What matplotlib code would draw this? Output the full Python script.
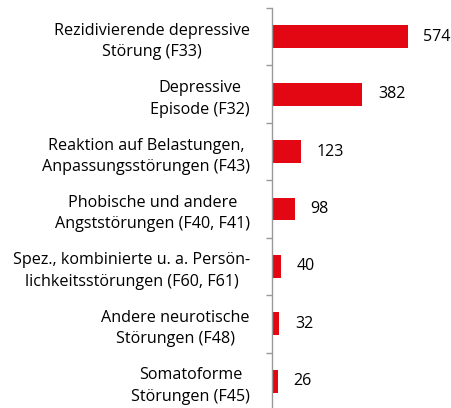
import matplotlib.pyplot as plt
from matplotlib.ticker import FixedLocator

categories = [
    "Rezidivierende depressive\nStörung (F33)",
    "Depressive\nEpisode (F32)",
    "Reaktion auf Belastungen,\nAnpassungsstörungen (F43)",
    "Phobische und andere\nAngststörungen (F40, F41)",
    "Spez., kombinierte u. a. Persön-\nlichkeitsstörungen (F60, F61)",
    "Andere neurotische\nStörungen (F48)",
    "Somatoforme\nStörungen (F45)",
]
values = [574, 382, 123, 98, 40, 32, 26]
value_labels = ["574", "382", "123", "98", "40", "32", "26"]

plt.rcParams['font.family'] = ['Open Sans', 'DejaVu Sans']

fig = plt.figure(figsize=(4.52, 4.08), dpi=100)
W, H = 452, 408
left_px, top_px, bottom_px = 271.5, 8, 410
xmax = 700
scale = 136.0 / 574  # px per unit
width_px = xmax * scale
ax = fig.add_axes([left_px / W, 1 - bottom_px / H, width_px / W, (bottom_px - top_px) / H])

y = list(range(len(categories)))
ax.barh(y, values, height=0.4, color='#E30613')
ax.set_ylim(len(categories) - 0.5, -0.5)
ax.set_xlim(0, xmax)

for yi, v, lab in zip(y, values, value_labels):
    ax.annotate(lab, (v, yi), xytext=(16, 0), textcoords='offset pixels',
                ha='left', va='center', fontsize=11.5, color='black')

ax.yaxis.set_major_locator(FixedLocator([i - 0.5 for i in range(len(categories) + 1)]))
ax.yaxis.set_major_formatter(plt.NullFormatter())
ax.yaxis.set_minor_locator(FixedLocator(y))
ax.set_yticklabels(categories, minor=True, fontsize=11.6, multialignment='center', linespacing=1.45)
ax.tick_params(axis='y', which='major', length=4, color='#999999', width=1)
ax.tick_params(axis='y', which='minor', length=0, pad=15.5)

ax.xaxis.set_visible(False)
for s in ['top', 'right', 'bottom']:
    ax.spines[s].set_visible(False)
ax.spines['left'].set_color('#999999')
ax.spines['left'].set_linewidth(1)

fig.savefig('out.png', dpi=100)
